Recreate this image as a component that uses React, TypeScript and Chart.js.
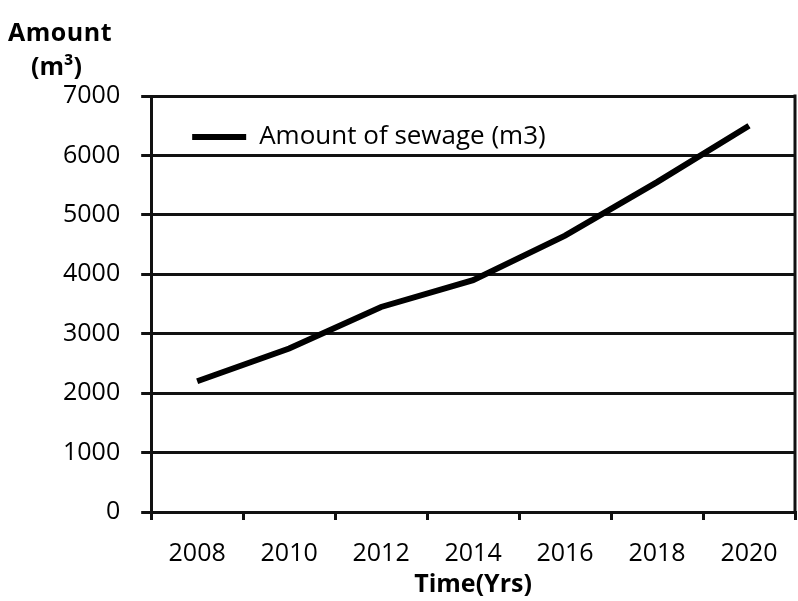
import React, { useEffect, useRef } from "react";
import { Chart, registerables } from "chart.js";

Chart.register(...registerables);

const years = ["2008", "2010", "2012", "2014", "2016", "2018", "2020"];
const sewageAmounts = [2200, 2750, 3450, 3900, 4650, 5550, 6500];
const seriesLabel = "Amount of sewage (m3)";
const xTitle = "Time(Yrs)";
const yTitleLine1 = "Amount";
const yTitleLine2 = "(m³)";

const FONT = "'Open Sans', 'DejaVu Sans', sans-serif";

const rightBorder = {
  id: "rightBorder",
  afterDraw(chart: any) {
    const { ctx, chartArea } = chart;
    ctx.save();
    ctx.strokeStyle = "#111";
    ctx.lineWidth = 3;
    ctx.beginPath();
    ctx.moveTo(chartArea.right, chartArea.top - 1.5);
    ctx.lineTo(chartArea.right, chartArea.bottom + 1.5);
    ctx.stroke();
    ctx.restore();
  },
};

export default function App() {
  const ref = useRef<HTMLCanvasElement>(null);

  useEffect(() => {
    if (!ref.current) return;
    const chart = new Chart(ref.current, {
      type: "line",
      data: {
        labels: years,
        datasets: [
          {
            label: seriesLabel,
            data: sewageAmounts,
            borderColor: "#000",
            backgroundColor: "#000",
            borderWidth: 6,
            pointRadius: 0,
            tension: 0,
          },
        ],
      },
      options: {
        responsive: false,
        animation: false,
        layout: { padding: { left: 42, top: 96, right: 3, bottom: 1 } },
        plugins: {
          tooltip: { enabled: false },
          legend: {
            position: "chartArea" as any,
            align: "start",
            title: {
              display: true,
              text: " ",
              font: { size: 10 },
              padding: { top: 71, bottom: 0 },
            },
            labels: {
              boxWidth: 54,
              boxHeight: 6,
              padding: 41,
              color: "#000",
              font: { family: FONT, size: 26 },
              generateLabels: (c: any) =>
                Chart.defaults.plugins.legend.labels
                  .generateLabels(c)
                  .map((l: any) => ({ ...l, lineWidth: 0, fillStyle: "#000" })),
            },
          },
        },
        scales: {
          x: {
            offset: true,
            grid: {
              offset: true,
              drawOnChartArea: false,
              drawTicks: true,
              tickLength: 8,
              color: "#111",
              lineWidth: 3,
            },
            border: { color: "#111", width: 3 },
            ticks: {
              color: "#000",
              padding: 19,
              maxRotation: 0,
              font: { family: FONT, size: 25 },
            },
            title: {
              display: true,
              text: xTitle,
              color: "#000",
              font: { family: FONT, size: 25, weight: "bold" },
              padding: { top: -18, bottom: 0 },
            },
          },
          y: {
            min: 0,
            max: 7000,
            grid: {
              color: "#111",
              lineWidth: 3,
              tickLength: 10,
            },
            border: { color: "#111", width: 3 },
            ticks: {
              stepSize: 1000,
              color: "#000",
              padding: 21,
              font: { family: FONT, size: 25 },
              callback: (v: any) => String(v),
            },
          },
        },
      },
      plugins: [rightBorder],
    });
    return () => chart.destroy();
  }, []);

  const titleStyle: React.CSSProperties = {
    position: "fixed",
    fontFamily: FONT,
    fontWeight: "bold",
    fontSize: 25,
    lineHeight: 1,
    color: "#000",
    whiteSpace: "nowrap",
  };

  return (
    <div style={{ position: "fixed", left: 0, top: 0, width: 798, height: 601, background: "#fff" }}>
      <canvas ref={ref} width={798} height={601} />
      <div style={{ ...titleStyle, left: 8, top: 19, letterSpacing: 0.5 }}>{yTitleLine1}</div>
      <div style={{ ...titleStyle, left: 31, top: 53 }}>{yTitleLine2}</div>
    </div>
  );
}
